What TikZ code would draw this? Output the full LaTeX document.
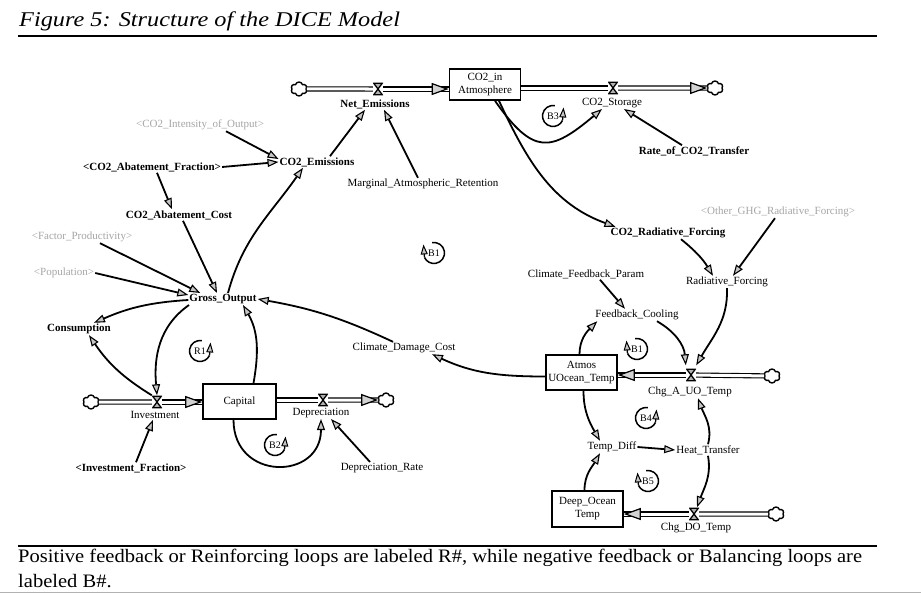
\documentclass[tikz,border=0pt]{standalone}
\usepackage{fontspec}
\setmainfont{Liberation Serif}
\usetikzlibrary{arrows.meta,shapes.symbols}
\newcommand\dloopR[3]{\node[loopt] (#1) at #2 {#3}; \draw[line width=1.5pt] (#1.center) ++(80:10.5pt) arc[start angle=80, end angle=335, radius=10.5pt]; \draw[looparc] (#1.center) ++(335:10.5pt) -- ++(1pt,13pt);}
\newcommand\dloopL[3]{\node[loopt] (#1) at #2 {#3}; \draw[line width=1.5pt] (#1.center) ++(100:10.5pt) arc[start angle=100, end angle=-155, radius=10.5pt]; \draw[looparc] (#1.center) ++(205:10.5pt) -- ++(-1pt,13pt);}
\begin{document}
\begin{tikzpicture}[x=1pt,y=-1pt,
  lbl/.style={font=\fontsize{11}{12}\selectfont, inner sep=1pt},
  blbl/.style={font=\fontsize{11}{12}\selectfont\bfseries, inner sep=1pt},
  glbl/.style={font=\fontsize{11}{12}\selectfont, inner sep=1pt, text=gray!70},
  stock/.style={draw, line width=1.6pt, fill=white, align=center, font=\fontsize{11}{13}\selectfont, inner sep=1pt},
  pipe/.style={line width=1.1pt, double distance=3pt},
  pipetip/.style={white, line width=0.3pt, -{Triangle[color=black, fill=gray!35, length=17pt, width=12pt, line width=1.2pt]}},
  info/.style={line width=1.8pt, -{Triangle[length=11pt, width=8pt, fill=gray!45, line width=1.1pt]}},
  valve/.style={inner sep=0pt, minimum width=10pt, minimum height=13pt, fill=white,
    path picture={\draw[line width=1.3pt, fill=gray!60]
      ([shift={(0.7pt,-0.7pt)}]path picture bounding box.north west) --
      ([shift={(-0.7pt,-0.7pt)}]path picture bounding box.north east) --
      ([shift={(0.7pt,0.7pt)}]path picture bounding box.south west) --
      ([shift={(-0.7pt,0.7pt)}]path picture bounding box.south east) -- cycle;}},
  src/.style={cloud, cloud puffs=6, aspect=1.2, draw, line width=1.4pt, fill=white, minimum width=16pt, minimum height=14pt, inner sep=0pt},
  loopt/.style={font=\fontsize{10}{11}\selectfont, inner sep=0pt},
  looparc/.style={line width=1.3pt, -{Triangle[length=10pt, width=7pt, fill=gray!45, line width=1pt]}}
]
\fill[white] (0,0) rectangle (921,594);
\useasboundingbox (0,0) rectangle (921,594);

% title, rules, caption
\node[anchor=base west, font=\fontsize{21}{25}\selectfont\itshape, inner sep=0pt] (title) at (19,27) {\scalebox{1.157}[1]{Figure 5: Structure of the DICE Model}};
\draw[line width=2pt] (18,36) -- (877,36);
\draw[line width=1.8pt] (18,546) -- (877,546);
\node[anchor=base west, font=\fontsize{19}{25}\selectfont, inner sep=0pt] (cap1) at (18,562) {\scalebox{1.08}[1]{Positive feedback or Reinforcing loops are labeled R\#, while negative feedback or Balancing loops are}};
\node[anchor=base west, font=\fontsize{19}{25}\selectfont, inner sep=0pt] (cap2) at (18,587) {\scalebox{1.08}[1]{labeled B\#.}};
\draw[gray!60, line width=1.5pt] (0,592.5) -- (921,592.5);

% stocks
\node[stock, minimum width=71pt, minimum height=31pt] (co2) at (485,84.5) {CO2\_in\\Atmosphere};
\node[stock, minimum width=73pt, minimum height=35pt] (cap) at (239.5,401.5) {Capital};
\node[stock, minimum width=71pt, minimum height=35pt] (atm) at (581.5,372.5) {Atmos\\UOcean\_Temp};
\node[stock, minimum width=71pt, minimum height=36pt] (deep) at (587.5,509) {Deep\_Ocean\\Temp};

% clouds
\node[src] (cNE) at (299,89) {};
\node[src] (cST) at (715,88) {};
\node[src] (cIN) at (91,402) {};
\node[src] (cDP) at (386,400) {};
\node[src] (cAT) at (772,376) {};
\node[src] (cDO) at (776,514) {};

% valves
\node[valve] (vNE) at (378,89) {};
\node[valve] (vST) at (613,88) {};
\node[valve] (vIN) at (157,402) {};
\node[valve] (vDP) at (323,400) {};
\node[valve] (vAT) at (691,375) {};
\node[valve] (vDO) at (694,514) {};

% pipes
\draw[pipe] (cNE) -- (vNE);
\draw[pipe] (vNE) -- (vNE -| co2.west);
\draw[pipetip] (vNE) -- (vNE -| co2.west);
\draw[pipe] (co2.east |- vST) -- (vST);
\draw[pipe] (vST) -- (cST);
\draw[pipetip] (vST) -- (cST);
\draw[pipe] (cIN) -- (vIN);
\draw[pipe] (vIN) -- (vIN -| cap.west);
\draw[pipetip] (vIN) -- (vIN -| cap.west);
\draw[pipe] (cap.east |- vDP) -- (vDP);
\draw[pipe] (vDP) -- (cDP);
\draw[pipetip] (vDP) -- (cDP);
\draw[pipe] (cAT) -- (vAT);
\draw[pipe] (vAT) -- (vAT -| atm.east);
\draw[pipetip] (vAT) -- (vAT -| atm.east);
\draw[pipe] (cDO) -- (vDO);
\draw[pipe] (vDO) -- (vDO -| deep.east);
\draw[pipetip] (vDO) -- (vDO -| deep.east);

% valve labels
\node[blbl] (netE) at (375,104) {Net\_Emissions};
\node[lbl] (stl) at (612,103) {CO2\_Storage};
\node[lbl] (ivl) at (155,415) {Investment};
\node[lbl] (dpl) at (321,413) {Depreciation};
\node[lbl] (atl) at (690,392) {Chg\_A\_UO\_Temp};
\node[lbl] (dol) at (696,528) {Chg\_DO\_Temp};

% auxiliaries
\node[glbl] (cio) at (200,125) {<CO2\_Intensity\_of\_Output>};
\node[blbl] (caf) at (152,167) {<CO2\_Abatement\_Fraction>};
\node[blbl] (co2e) at (317,162) {CO2\_Emissions};
\node[lbl] (mar) at (423,184) {Marginal\_Atmospheric\_Retention};
\node[blbl] (cac) at (179,215) {CO2\_Abatement\_Cost};
\node[glbl] (fp) at (82,237) {<Factor\_Productivity>};
\node[glbl] (pop) at (64,273) {<Population>};
\node[blbl] (gross) at (223,299) {Gross\_Output};
\node[blbl] (cons) at (79,329) {Consumption};
\node[blbl] (ifr) at (131,468) {<Investment\_Fraction>};
\node[lbl] (drate) at (382,468) {Depreciation\_Rate};
\node[lbl] (cdc) at (404,348) {Climate\_Damage\_Cost};
\node[blbl] (rate) at (694,151) {Rate\_of\_CO2\_Transfer};
\node[blbl] (co2rf) at (668,233) {CO2\_Radiative\_Forcing};
\node[glbl] (oth) at (778,212) {<Other\_GHG\_Radiative\_Forcing>};
\node[lbl] (radf) at (727,282) {Radiative\_Forcing};
\node[lbl] (cfp) at (586,274) {Climate\_Feedback\_Param};
\node[lbl] (fbc) at (637,315) {Feedback\_Cooling};
\node[lbl] (tdiff) at (612,447) {Temp\_Diff};
\node[lbl] (heat) at (708,450) {Heat\_Transfer};

% information links
\draw[info] ([xshift=26pt]cio.south) -- ([yshift=3pt]co2e.west);
\draw[info] (caf.east) -- (co2e.west);
\draw[info] ([xshift=13pt]co2e.north) -- ([xshift=-10pt]netE.south);
\draw[info] ([xshift=-5pt]mar.north) -- ([xshift=9pt]netE.south);
\draw[info] ([xshift=5pt]caf.south) -- ([xshift=-7pt]cac.north);
\draw[info] ([xshift=4pt]cac.south) -- ([xshift=-6pt]gross.north);
\draw[info] ([xshift=5pt]gross.north) to[out=75,in=-125] ([xshift=-14pt]co2e.south);
\draw[info] ([xshift=18pt]fp.south) -- ([xshift=12pt]gross.north west);
\draw[info] (pop.east) -- ([yshift=4pt]gross.west);
\draw[info] ([yshift=-1pt]gross.west) to[bend right=10] ([xshift=15pt]cons.north);
\draw[info] (vIN.north west) to[bend left=12] ([xshift=10pt]cons.south);
\draw[info] ([xshift=-34pt]gross.south) to[out=215,in=95] (vIN.north);
\draw[info] ([xshift=14pt]cap.north) to[out=80,in=-60] ([xshift=20pt]gross.south);
\draw[info] ([xshift=-11pt]cdc.north) to[out=155,in=-10] (gross.east);
\draw[info] ([yshift=-4pt]atm.west) to[out=180,in=-25] ([xshift=28pt]cdc.south);
\draw[info] ([xshift=-2pt]atm.north) to[out=90,in=-135] ([xshift=3pt]fbc.south west);
\draw[info] ([xshift=14pt]cfp.south) -- ([xshift=-12pt]fbc.north);
\draw[info] ([xshift=20pt]fbc.south) to[out=-30,in=95] ([yshift=3pt]vAT.north west);
\draw[info] (radf.south) to[out=-88,in=60] ([yshift=3pt]vAT.north east);
\draw[info] ([xshift=13pt]co2rf.south) to[bend left=10] ([xshift=-14pt]radf.north);
\draw[info] ([xshift=-3pt]oth.south) -- ([xshift=6pt]radf.north);
\draw[info] ([xshift=10pt]co2.south) to[out=-55,in=-140,looseness=1.6] ([xshift=-10pt]stl.south);
\draw[info] ([xshift=14pt]co2.south) to[out=-65,in=160] ([xshift=6pt]co2rf.north west);
\draw[info] ([xshift=-12pt]rate.north) -- ([xshift=12pt]stl.south);
\draw[info] ([xshift=2pt]atm.south) to[out=-90,in=120] ([xshift=-12pt]tdiff.north);
\draw[info] ([xshift=-3pt]deep.north) to[out=90,in=-120] ([xshift=-12pt]tdiff.south);
\draw[info] (tdiff.east) -- (heat.west);
\draw[info] (heat.north) to[out=75,in=-70] ([xshift=8pt]atl.south);
\draw[info] (heat.south) to[out=-80,in=70] ([xshift=3pt]vDO.north);
\draw[info] ([xshift=5pt]ifr.north) -- ([xshift=-2pt]ivl.south);
\draw[info] ([xshift=-6pt]cap.south) to[out=-90,in=-90,looseness=1.8] (dpl.south);
\draw[info] ([xshift=-12pt]drate.north) -- ([xshift=10pt]dpl.south);

% loop markers
\dloopR{lB3}{(553,116)}{B3}
\dloopL{lBa}{(434,253)}{B1}
\dloopR{lR1}{(200,351)}{R1}
\dloopR{lB2}{(275,445)}{B2}
\dloopL{lBb}{(637,349)}{B1}
\dloopR{lB4}{(646,418)}{B4}
\dloopL{lB5}{(648,481)}{B5}
\end{tikzpicture}
\end{document}
